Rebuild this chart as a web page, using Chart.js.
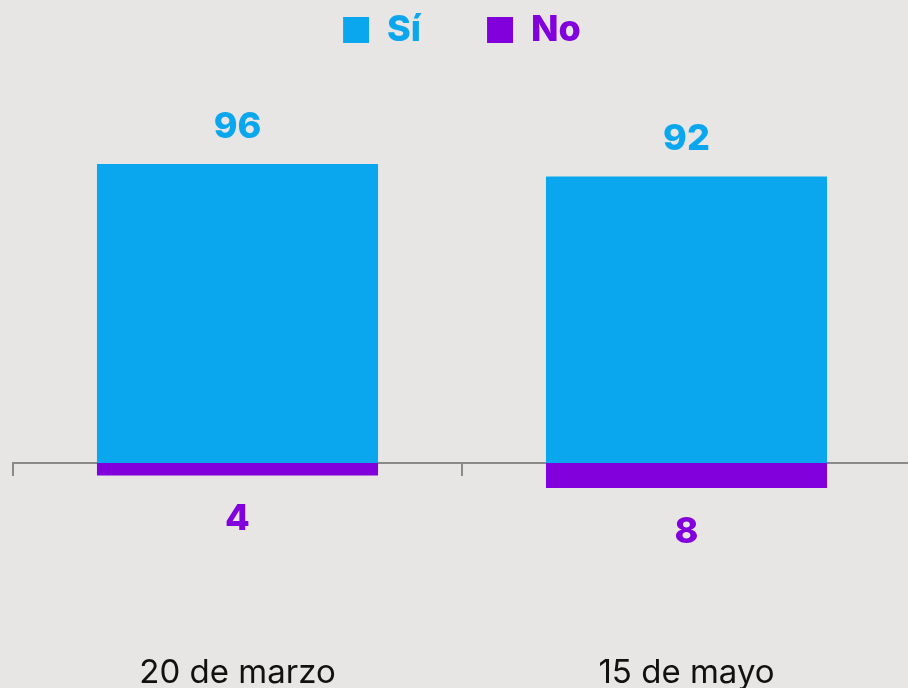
<!DOCTYPE html>
<html>
<head>
<meta charset="utf-8">
<script src="https://cdn.jsdelivr.net/npm/chart.js@4.4.1/dist/chart.umd.min.js"></script>
<style>
  html, body { margin: 0; padding: 0; background: #e8e6e5; overflow: hidden; }
  #wrap { width: 912px; height: 688px; }
</style>
</head>
<body>
<div id="wrap"><canvas id="myCanvas" width="912" height="688"></canvas></div>
<script>
const categories = ["20 de marzo", "15 de mayo"]
const siValues = [96, 92]
const noValues = [4, 8]
const seriesNames = ["Sí", "No"]

const siColor = "#0ba7ee"
const noColor = "#8200db"
const axisColor = "#8a8a8a"

// value labels above / below the bars
const valueLabels = {
  id: "valueLabels",
  afterDatasetsDraw(chart) {
    const ctx = chart.ctx
    ctx.save()
    ctx.font = "800 36px Inter"
    ctx.textAlign = "center"
    ctx.textBaseline = "middle"
    chart.data.datasets.forEach((ds, i) => {
      const meta = chart.getDatasetMeta(i)
      meta.data.forEach((bar, j) => {
        const v = ds.data[j]
        ctx.fillStyle = ds.backgroundColor
        const y = v >= 0 ? bar.y - 37 : bar.y + 44
        ctx.fillText(String(Math.abs(v)), bar.x, y)
      })
    })
    ctx.restore()
  },
}

const ctx = document.getElementById("myCanvas").getContext("2d")

new Chart(ctx, {
  type: "bar",
  data: {
    labels: categories,
    datasets: [
      {
        label: seriesNames[0],
        data: siValues,
        backgroundColor: siColor,
      },
      {
        label: seriesNames[1],
        data: noValues.map((v) => -v),
        backgroundColor: noColor,
      },
    ],
  },
  options: {
    responsive: false,
    animation: false,
    layout: { padding: { top: -54, left: 13, right: 1, bottom: -6 } },
    datasets: {
      bar: { barPercentage: 1, categoryPercentage: 0.626 },
    },
    scales: {
      x: {
        stacked: true,
        grid: { display: false },
        border: { display: false },
        ticks: {
          color: "#111",
          padding: 3,
          font: { family: "Inter", size: 33, lineHeight: 1.1 },
        },
      },
      xz: {
        type: "category",
        labels: categories,
        position: { y: 0 },
        offset: true,
        grid: {
          offset: true,
          drawOnChartArea: false,
          tickLength: 12,
          color: axisColor,
          lineWidth: 2,
        },
        border: { color: axisColor, width: 2 },
        ticks: { display: false },
      },
      y: {
        stacked: true,
        display: false,
        min: -58,
        max: 130,
      },
    },
    plugins: {
      tooltip: { enabled: false },
      legend: {
        position: "top",
        labels: {
          boxWidth: 26,
          boxHeight: 26,
          padding: 66,
          font: { family: "Inter", size: 36, weight: "800" },
          generateLabels(chart) {
            return Chart.defaults.plugins.legend.labels
              .generateLabels(chart)
              .map((item) => ({ ...item, fontColor: item.fillStyle, lineWidth: 0 }))
          },
        },
      },
    },
  },
  plugins: [valueLabels],
})
</script>
</body>
</html>
